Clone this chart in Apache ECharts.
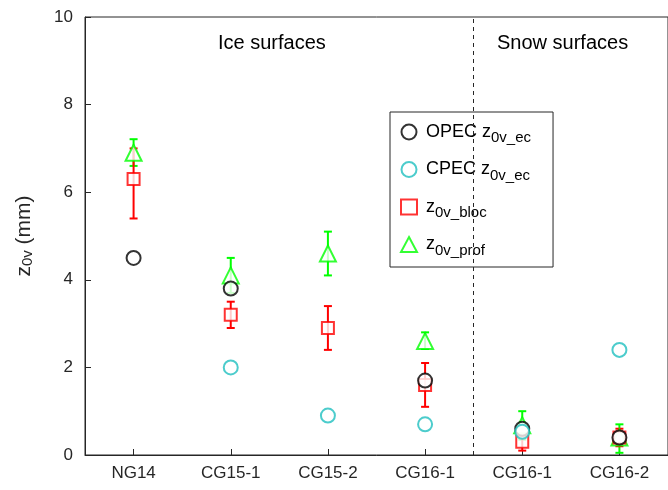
<!DOCTYPE html>
<html><head><meta charset="utf-8">
<script src="https://cdn.jsdelivr.net/npm/echarts@6/dist/echarts.min.js"></script>
<style>html,body{margin:0;padding:0;background:#fff}#c{width:668px;height:490px}</style>
</head><body><div id="c"></div>
<script>
const categories = ['NG14','CG15-1','CG15-2','CG16-1','CG16-1','CG16-2'];
const xPos = [1,2,3,4,5,6];
const opec = [4.5, 3.8, null, 1.7, 0.6, 0.4];
const cpec = [null, 2.0, 0.9, 0.7, 0.53, 2.4];
const bloc = [6.3, 3.2, 2.9, 1.6, 0.3, 0.4];
const blocLo = [5.4, 2.9, 2.4, 1.1, 0.1, 0.2];
const blocHi = [7.0, 3.5, 3.4, 2.1, 0.5, 0.6];
const prof = [6.9, 4.1, 4.6, 2.6, 0.68, 0.4];
const profLo = [6.6, 3.7, 4.1, 2.42, 0.35, 0.05];
const profHi = [7.21, 4.5, 5.1, 2.8, 1.0, 0.7];
const yTicks = [0,2,4,6,8,10];
const divider = 4.5;

const F = 'Liberation Sans, Arial, sans-serif';
function pts(v){return xPos.map((x,i)=>v[i]==null?null:[x,v[i]]).filter(Boolean);}
function errSeries(lo,hi,color){
  return {type:'custom',silent:true,z:3,
    data: xPos.map((x,i)=>[x,lo[i],hi[i]]),
    renderItem:(p,api)=>{
      const a=api.coord([api.value(0),api.value(1)]), b=api.coord([api.value(0),api.value(2)]);
      const st={stroke:color,lineWidth:2};
      return {type:'group',children:[
        {type:'line',shape:{x1:a[0],y1:a[1],x2:b[0],y2:b[1]},style:st},
        {type:'line',shape:{x1:a[0]-4,y1:a[1],x2:a[0]+4,y2:a[1]},style:st},
        {type:'line',shape:{x1:b[0]-4,y1:b[1],x2:b[0]+4,y2:b[1]},style:st}]};
    }};
}
const sub={fontSize:15,verticalAlign:'bottom',padding:[12,0,0,0],fontFamily:F,color:'#000'};
const chart=echarts.init(document.getElementById('c'));
chart.setOption({
  animation:false,
  grid:{left:85,right:-1,top:17,bottom:35,show:true,borderColor:'#262626',borderWidth:1},
  xAxis:{type:'value',min:0.5,max:6.5,
    axisLine:{lineStyle:{color:'#262626'}},splitLine:{show:false},
    axisTick:{inside:true,length:6,customValues:xPos,lineStyle:{color:'#262626'}},
    axisLabel:{customValues:xPos,formatter:v=>categories[Math.round(v)-1],fontSize:17,color:'#262626',fontFamily:F,margin:10}},
  yAxis:{type:'value',min:0,max:10,interval:2,
    axisLine:{show:true,lineStyle:{color:'#262626'}},splitLine:{show:false},
    axisTick:{inside:true,length:6,lineStyle:{color:'#262626'}},
    axisLabel:{fontSize:17,color:'#262626',fontFamily:F,margin:12,formatter:v=>yTicks.includes(v)?String(v):''},
    name:'{a|z}{b|0v}{a| (mm)}',nameLocation:'middle',nameGap:50,nameRotate:90,
    nameTextStyle:{rich:{a:{fontSize:21,fontFamily:F,color:'#262626'},b:{fontSize:15,fontFamily:F,color:'#262626',padding:[0,0,0,0],verticalAlign:'bottom'}}}},
  legend:{orient:'vertical',left:390,top:112,padding:[11,22,9,10],itemGap:15,
    backgroundColor:'#fff',borderColor:'#262626',borderWidth:1,itemWidth:16,itemHeight:15,
    data:['OPEC','CPEC','bloc','prof'],
    formatter:n=>({OPEC:'{a|OPEC z}{b|0v_ec}',CPEC:'{a|CPEC z}{b|0v_ec}',bloc:'{a|z}{b|0v_bloc}',prof:'{a|z}{b|0v_prof}'})[n],
    textStyle:{padding:[0,0,0,4],rich:{a:{fontSize:18,fontFamily:F,color:'#000'},b:sub}}},
  graphic:[
    {type:'text',left:218,top:33,style:{text:'Ice surfaces',font:'20px '+F,fill:'#000'}},
    {type:'text',left:497,top:33,style:{text:'Snow surfaces',font:'20px '+F,fill:'#000'}}],
  series:[
    errSeries(profLo,profHi,'#00ff00'),
    errSeries(blocLo,blocHi,'#ff0000'),
    {name:'prof',type:'scatter',symbol:'emptyTriangle',symbolSize:16,z:4,data:pts(prof),itemStyle:{color:'#00ff00',borderWidth:2}},
    {name:'bloc',type:'scatter',symbol:'emptyRect',symbolSize:12,z:4,data:pts(bloc),itemStyle:{color:'#ff0000',borderWidth:2}},
    {name:'OPEC',type:'scatter',symbol:'emptyCircle',symbolSize:14,z:4,data:pts(opec),itemStyle:{color:'#000',borderWidth:2},
      markLine:{silent:true,symbol:'none',label:{show:false},lineStyle:{color:'#262626',type:[4,4],width:1},data:[{xAxis:divider}]}},
    {name:'CPEC',type:'scatter',symbol:'emptyCircle',symbolSize:14,z:4,data:pts(cpec),itemStyle:{color:'#1fbfbf',borderWidth:2}}
  ]
});
</script></body></html>
